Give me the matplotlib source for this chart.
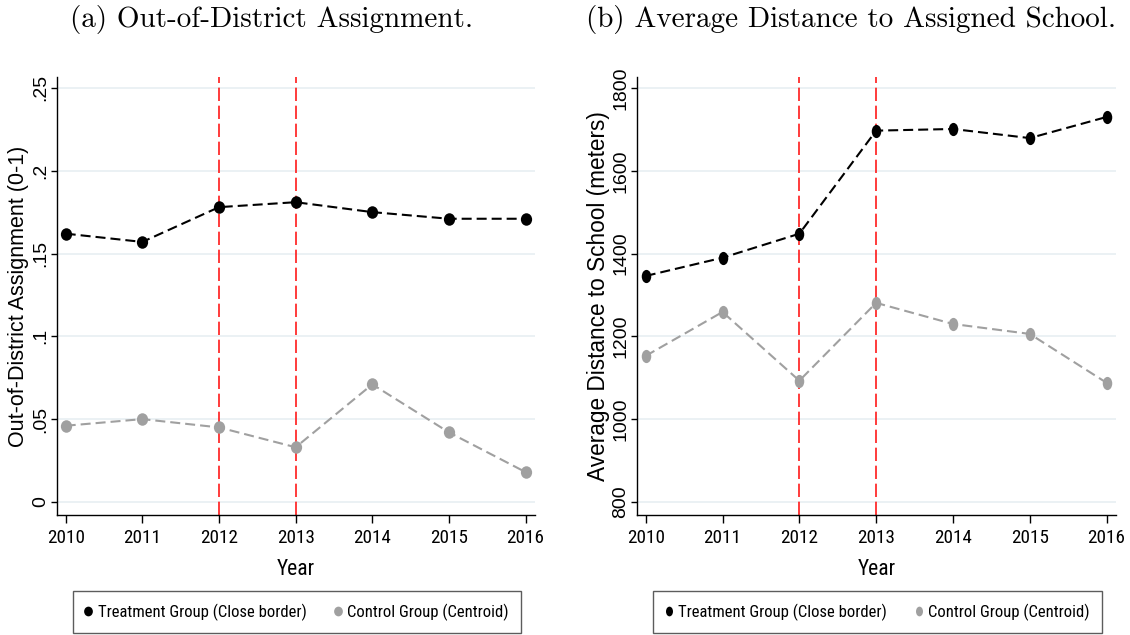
import matplotlib
matplotlib.use("Agg")
import matplotlib.pyplot as plt
from matplotlib import font_manager as fm
from matplotlib.lines import Line2D
from matplotlib.path import Path
from matplotlib.transforms import Affine2D

years = [2010, 2011, 2012, 2013, 2014, 2015, 2016]
ood_treat = [0.162, 0.157, 0.178, 0.181, 0.175, 0.171, 0.171]
ood_ctrl = [0.046, 0.050, 0.045, 0.033, 0.071, 0.042, 0.018]
dist_treat = [1346, 1390, 1448, 1697, 1701, 1679, 1730]
dist_ctrl = [1153, 1259, 1093, 1281, 1230, 1206, 1088]
policy_years = [2012, 2013]
ood_ticks = [0, 0.05, 0.1, 0.15, 0.2, 0.25]
ood_ticklabels = ["0", ".05", ".1", ".15", ".2", ".25"]
dist_ticks = [800, 1000, 1200, 1400, 1600, 1800]
dist_ticklabels = ["800", "1000", "1200", "1400", "1600", "1800"]
titles = ["(a) Out-of-District Assignment.", "(b) Average Distance to Assigned School."]
ylabels = ["Out-of-District Assignment (0-1)", "Average Distance to School (meters)"]
legend_labels = ["Treatment Group (Close border)", "Control Group (Centroid)"]

# ---- fonts ----
names = {f.name for f in fm.fontManager.ttflist}
serif = "cmr10" if "cmr10" in names else "DejaVu Serif"
sans = "Liberation Sans"

def find_narrow():
    pref = ["Liberation Sans Narrow", "Arial Narrow", "Roboto Condensed", "DejaVu Sans",
            "Open Sans Condensed", "Noto Sans", "Open Sans", "Roboto", "Lato", "Inter"]
    cands = []
    for f in fm.fontManager.ttflist:
        cond = ("Narrow" in f.name or "Condensed" in f.name
                or f.stretch in ("condensed", "semi-condensed", "extra-condensed")
                or "ondensed" in f.fname or "Narrow" in f.fname)
        if not cond or f.style != "normal":
            continue
        w = f.weight
        if w not in (400, "normal", "regular", "book"):
            continue
        rank = pref.index(f.name) if f.name in pref else len(pref)
        cands.append((rank, f.fname))
    if cands:
        cands.sort()
        return cands[0][1]
    return None

narrow_path = find_narrow()
if narrow_path:
    NFP = lambda size: fm.FontProperties(fname=narrow_path, size=size)
    scale = 1.0
else:
    NFP = lambda size: fm.FontProperties(family=sans, size=size)
    scale = 0.85

W, H = 1130, 635
fig = plt.figure(figsize=(W / 100, H / 100), dpi=100)

def px(x0, y0, x1, y1):
    return [x0 / W, 1 - y1 / H, (x1 - x0) / W, (y1 - y0) / H]

def ellipse(sx):
    return Path.unit_circle().transformed(Affine2D().scale(sx, 1.0))

panels = [
    dict(rect=px(57, 77, 535, 515), treat=ood_treat, ctrl=ood_ctrl, ticks=ood_ticks,
         tl=ood_ticklabels, ylim=(-0.0079, 0.2566), title_x=272, legx=(82, 512),
         ylx=(29 - 57) / 478, ylsize=15.5, marker=ellipse(0.9), ms=9),
    dict(rect=px(637, 77, 1116, 515), treat=dist_treat, ctrl=dist_ctrl, ticks=dist_ticks,
         tl=dist_ticklabels, ylim=(800 - 13 * 2.415, 1800 + 11 * 2.415), title_x=851,
         legx=(663, 1092), ylx=(610 - 637) / 479, ylsize=16.3, marker=ellipse(0.72), ms=9.5),
]

grid_col = "#e9f0f3"
gray = "#a0a0a0"
for i, p in enumerate(panels):
    ax = fig.add_axes(p["rect"])
    ax.set_xlim(2010 - 8.7 / 76.6, 2016 + 9.4 / 76.6)
    ax.set_ylim(*p["ylim"])
    for t in p["ticks"]:
        ax.axhline(t, color=grid_col, lw=1.3, zorder=0)
    for yv in policy_years:
        ax.axvline(yv, color="#ff1a1a", lw=1.2, dashes=(8, 2.8), zorder=1)
    ax.plot(years, p["ctrl"], color=gray, lw=1.5, dashes=(4.8, 2.4), marker=p["marker"],
            ms=p["ms"], mfc=gray, mec=gray, mew=0, zorder=3)
    ax.plot(years, p["treat"], color="black", lw=1.5, dashes=(4.8, 2.4), marker=p["marker"],
            ms=p["ms"], mfc="black", mec="black", mew=0, zorder=4)
    for s in ["top", "right"]:
        ax.spines[s].set_visible(False)
    for s in ["left", "bottom"]:
        ax.spines[s].set_linewidth(1.0)
    ax.set_xticks(years)
    ax.set_xticklabels([str(y) for y in years], fontproperties=NFP(13.8 * scale))
    ax.set_yticks(p["ticks"])
    ax.set_yticklabels(p["tl"], rotation=90, va="center", fontfamily=sans, fontsize=14)
    ax.tick_params(axis="x", length=6, width=1.0, direction="out", pad=4)
    ax.tick_params(axis="y", length=4, width=1.0, direction="out", pad=1.5)
    ax.set_xlabel("Year", fontproperties=NFP(15.5 * scale))
    ax.xaxis.set_label_coords(0.5, -0.1)
    ax.set_ylabel(ylabels[i], fontfamily=sans, fontsize=p["ylsize"])
    ax.yaxis.set_label_coords(p["ylx"], 0.5)
    fig.text(p["title_x"] / W, 1 - 20 / H, titles[i], fontfamily=serif, fontsize=21,
             ha="center", va="center")
    handles = [Line2D([], [], ls="none", marker=p["marker"], ms=7, color="black", mew=0),
               Line2D([], [], ls="none", marker=p["marker"], ms=7, color=gray, mew=0)]
    lx0, lx1 = p["legx"]
    leg = fig.legend(handles, legend_labels, loc="center",
                     bbox_to_anchor=((lx0 + lx1) / 2 / W, 1 - 612 / H), ncol=2,
                     prop=NFP(12 * scale), frameon=True, fancybox=False,
                     edgecolor="#333333", handletextpad=0.35, columnspacing=1.7,
                     handlelength=0.4, borderpad=0.75, borderaxespad=0)
    leg.get_frame().set_linewidth(1.0)

fig.savefig("out.png", dpi=100)
